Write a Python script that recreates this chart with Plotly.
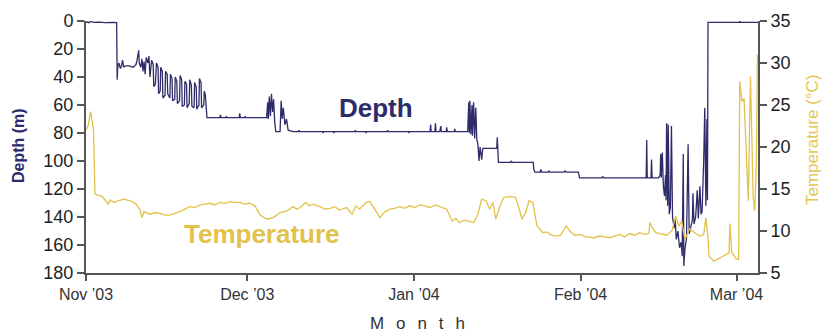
import pandas as pd
import plotly.graph_objects as go

START = "2003-11-01"

# Depth series: days since 1 Nov 2003, depth in metres
depth_day = [0.0, 0.6, 0.8, 1.5, 2.5, 3.5, 5.0, 5.7,
             5.8, 5.9, 6.1, 6.4, 6.6, 6.8, 7.0, 7.3, 8.0, 8.8, 9.3, 9.5, 9.8, 9.9, 10.2, 10.4, 10.6, 10.8, 11.0, 11.2, 11.5, 11.7, 11.9,
             12.2, 12.5, 12.6, 12.9, 13.1, 13.4, 13.5, 13.8, 13.9, 14.2, 14.3, 14.7, 14.8, 15.1, 15.2, 15.6,
             15.7, 16.0, 16.1, 16.5, 16.6, 16.9, 17.0, 17.4, 17.5, 17.8, 17.9, 18.3, 18.4, 18.7, 18.8, 19.2,
             19.3, 19.6, 19.7, 20.1, 20.2, 20.5, 20.6, 21.0, 21.1, 21.4, 21.5, 21.9, 22.0, 22.2, 22.3, 22.5,
             24.9, 25.0, 25.1, 26.0, 26.1, 26.2, 28.5, 28.6, 28.7, 29.5, 29.6, 29.7, 33.6,
             33.8, 33.9, 34.1, 34.3, 34.5, 34.7, 34.9, 35.1, 35.3, 36.1, 36.3, 36.5, 36.7, 37.0, 37.3, 37.6, 38.5,
             39.5, 39.6, 39.7, 44.0, 44.1, 44.2, 46.0, 46.1, 46.2, 50.0, 50.1, 50.2, 52.0, 52.1, 52.2, 56.0, 56.1, 56.2,
             60.0, 60.1, 60.2, 64.0, 64.1, 64.2, 64.9, 65.0, 65.1, 65.8, 66.0, 66.1, 67.0, 67.1, 67.2, 68.5, 68.6, 68.7, 71.0,
             71.2, 71.3, 71.4, 71.6, 71.8, 71.9, 72.1, 72.3, 72.5, 72.7, 72.9, 73.1, 73.3, 73.6, 73.8, 76.4, 76.5, 76.6, 76.7,
             79.0, 79.1, 79.3, 83.2, 83.3, 83.5, 84.5, 84.6, 84.8, 86.0, 86.1, 86.3, 89.0, 89.1, 89.4, 91.6, 91.8, 96.0, 96.1, 96.3, 103.8,
             104.2, 104.3, 104.4, 105.1, 105.2, 105.3, 106.5, 106.8, 106.9, 107.0, 107.2, 107.4, 107.6, 107.8, 107.9, 108.0, 108.2, 108.3,
             108.5, 108.7, 108.9, 109.1, 109.4, 109.6, 109.8, 110.1, 110.4, 110.7, 110.9, 111.1, 111.2, 111.4, 111.7, 112.0, 112.2, 112.5,
             112.8, 112.9, 113.1, 113.4, 113.7, 113.9, 114.2, 114.4, 114.6, 114.9, 115.1, 115.3, 115.5, 115.6, 115.7, 121.5, 121.6, 121.7, 125.0]
depth_m = [0.5, 1.2, 0.3, 1.0, 0.8, 1.2, 1.0, 1.2,
           42, 33, 30, 34, 32, 28, 33, 32, 32, 33, 31, 28, 21, 30, 33, 27, 36, 29, 38, 26, 30, 25, 40,
           28, 31, 47, 45, 30, 33, 52, 50, 33, 36, 55, 53, 36, 38, 52, 55,
           38, 41, 57, 56, 40, 43, 59, 57, 39, 42, 61, 60, 43, 45, 62, 59,
           42, 46, 61, 62, 44, 47, 63, 60, 41, 44, 62, 60, 50, 53, 58, 69,
           69, 67, 69, 69, 68, 69, 69, 66, 69, 69, 68, 69, 69,
           58, 70, 54, 68, 52, 65, 56, 72, 79, 79, 57, 70, 62, 74, 70, 78, 79,
           79, 78, 79, 79, 80, 79, 79, 80, 79, 79, 78, 79, 79, 80, 79, 79, 78, 79,
           79, 80, 79, 79, 74, 79, 79, 73, 79, 79, 75, 79, 79, 76, 79, 79, 77, 79, 79,
           58, 80, 57, 81, 60, 82, 58, 84, 62, 85, 88, 100, 90, 99, 91, 91, 83, 91, 101,
           101, 100, 101, 101, 106, 108, 108, 106, 108, 108, 107, 108, 108, 107, 108, 108, 112, 112, 111, 112, 112,
           112, 85, 112, 112, 99, 112, 112, 110, 95, 112, 94, 118, 125, 110, 128, 73, 132, 74,
           138, 133, 75, 140, 148, 142, 156, 150, 162, 158, 168, 95, 175, 163, 155, 88, 152, 147,
           142, 123, 145, 140, 121, 141, 118, 138, 136, 100, 62, 132, 70, 128, 1, 1, 0, 1, 1]

# Temperature series: days since 1 Nov 2003, degrees C
temp_day = [0.0, 0.37, 0.87, 1.1, 1.4, 1.67, 2.2, 3.0, 3.7, 4.1, 4.5, 5.2, 5.95, 7.1, 8.2, 9.3, 10.0, 10.4, 10.8,
            11.9, 12.8, 13.8, 14.7, 15.6, 16.5, 17.5, 18.4, 19.3, 20.2, 21.2, 22.1, 23.1, 24.0, 24.9, 25.8, 26.8,
            27.7, 28.6, 29.5, 30.5, 31.4, 32.4, 33.7, 34.8, 36.1, 37.4,
            38.5, 39.2, 39.8, 40.9, 41.5, 42.2, 43.5, 44.4, 45.4, 46.3, 47.2, 48.5, 49.5, 50.2, 50.9, 52.1, 52.8, 53.9, 54.7, 55.6, 56.5,
            57.4, 58.4, 59.3, 60.2, 61.2, 62.1, 63.0, 64.0, 65.0, 65.8, 67.1, 68.1, 68.8, 69.5, 70.3, 71.0, 72.1, 72.9, 73.6, 74.4, 75.1, 75.7, 76.2, 77.0,
            77.7, 78.8, 79.9, 80.5, 81.1, 81.8, 82.4, 83.1, 83.9, 85.0, 85.7, 86.3, 87.4, 88.3, 89.3, 90.0, 90.9, 91.9,
            93.0, 94.6, 95.5, 96.5, 97.4, 98.4, 99.3, 100.2, 101.1, 102.1, 103.0, 103.9, 104.7, 104.9, 105.3, 106.0, 107.1, 108.0, 109.0, 109.7,
            110.3, 110.8, 111.4, 112.3, 113.2, 114.2, 114.9, 115.3, 115.7, 115.9, 116.8, 117.9, 119.0, 119.6,
            119.8, 120.1, 120.9, 121.4, 121.6, 122.0, 122.4, 122.5, 122.9, 123.2, 123.6, 123.9, 124.1, 124.4,
            124.7, 124.9]
temp_c = [22.0, 22.5, 24.2, 23.0, 22.0, 14.4, 14.3, 14.1, 13.6, 13.2, 13.7, 13.4, 13.6, 13.8, 13.6, 13.2, 12.6, 11.6, 12.3,
          12.0, 12.2, 12.1, 11.9, 11.9, 12.1, 12.3, 12.6, 12.9, 12.8, 13.1, 13.2, 13.3, 13.1, 13.4, 13.3, 13.5,
          13.4, 13.4, 13.2, 13.3, 13.0, 11.9, 11.4, 11.6, 12.2, 12.4,
          12.9, 12.6, 12.8, 13.4, 13.0, 13.2, 12.9, 12.6, 12.7, 12.9, 12.5, 12.8, 12.0, 13.0, 12.6, 13.4, 13.5, 12.4, 11.6, 12.3, 12.6,
          12.7, 12.9, 12.7, 13.0, 12.8, 13.1, 13.0, 12.8, 13.1, 12.9, 12.6, 11.2, 11.5, 11.0, 11.3, 11.2, 11.0, 12.0, 13.8, 13.6, 12.6, 13.4, 11.4, 13.0,
          14.0, 14.1, 14.0, 12.8, 11.4, 12.2, 13.6, 13.4, 10.6, 9.8, 9.9, 9.6, 9.4, 9.5, 10.6, 10.0, 9.5, 9.6,
          9.3, 9.2, 9.4, 9.3, 9.2, 9.4, 9.6, 9.3, 9.7, 9.5, 9.8, 9.6, 9.7, 11.0, 10.4, 9.8, 9.6, 9.5, 10.0, 11.8,
          10.6, 11.2, 9.0, 10.3, 9.8, 9.4, 9.6, 11.6, 9.2, 7.0, 6.4, 6.8, 7.1, 7.4,
          10.9, 7.5, 6.7, 6.6, 27.8, 25.4, 25.8, 24.2, 16.9, 13.6, 28.4, 20.0, 14.0, 12.4,
          18.2, 31.0]

tick_vals = ["2003-11-01", "2003-12-01", "2004-01-01", "2004-02-01", "2004-03-01"]
tick_text = ["Nov \u201903", "Dec \u201903", "Jan \u201904", "Feb \u201904", "Mar \u201904"]

base = pd.Timestamp(START)
depth_x = [base + pd.Timedelta(days=d) for d in depth_day]
temp_x = [base + pd.Timedelta(days=d) for d in temp_day]

NAVY = "#2e2b6a"
GOLD = "#e2c24a"
FONT = "Liberation Sans, Arial, sans-serif"
AX = "#555555"

fig = go.Figure()
fig.add_trace(go.Scatter(x=temp_x, y=temp_c, mode="lines", yaxis="y2",
                         line=dict(color=GOLD, width=1.3), showlegend=False))
fig.add_trace(go.Scatter(x=depth_x, y=depth_m, mode="lines", yaxis="y",
                         line=dict(color=NAVY, width=1.3), showlegend=False))

fig.update_layout(
    width=823, height=335,
    margin=dict(l=86, r=65, t=21, b=62),
    paper_bgcolor="white", plot_bgcolor="white",
    font=dict(family=FONT, color="#222222"),
    xaxis=dict(type="date", range=["2003-11-01", "2004-03-05"],
               tickvals=tick_vals, ticktext=tick_text,
               showgrid=False, zeroline=False,
               showline=True, linecolor=AX, linewidth=2,
               ticks="outside", ticklen=6, tickwidth=2, tickcolor=AX,
               tickfont=dict(size=16, color="#333333")),
    yaxis=dict(range=[180, 0], tickvals=list(range(0, 181, 20)),
               showgrid=False, zeroline=False,
               showline=True, linecolor=AX, linewidth=2,
               ticks="outside", ticklen=7, tickwidth=2, tickcolor=AX,
               tickfont=dict(size=18, color="#222222")),
    yaxis2=dict(range=[5, 35], tickvals=list(range(5, 36, 5)),
                overlaying="y", side="right", anchor="x",
                showgrid=False, zeroline=False,
                showline=True, linecolor=AX, linewidth=2,
                ticks="outside", ticklen=7, tickwidth=2, tickcolor=AX,
                tickfont=dict(size=18, color="#222222")),
)

fig.add_annotation(text="<b>Depth (m)</b>", textangle=-90, xref="paper", yref="paper",
                   x=-86/672 + 18/672, y=(273-146)/252, xanchor="center", yanchor="middle",
                   showarrow=False, font=dict(size=16, color=NAVY))
fig.add_annotation(text="Temperature (\u00b0C)", textangle=-90, xref="paper", yref="paper",
                   x=(812-86)/672, y=(273-140)/252, xanchor="center", yanchor="middle",
                   showarrow=False, font=dict(size=17, color="#e5c654"))
fig.add_annotation(text="M\u2002\u2009o\u2002\u2009n\u2002\u2009t\u2002\u2009h", xref="paper", yref="paper",
                   x=(417-86)/672, y=(273-323)/252, xanchor="center", yanchor="middle",
                   showarrow=False, font=dict(size=17, color="#333333"))
fig.add_annotation(text="<b>Depth</b>", xref="paper", yref="paper",
                   x=(376-86)/672, y=(273-108)/252, xanchor="center", yanchor="middle",
                   showarrow=False, font=dict(size=26, color=NAVY))
fig.add_annotation(text="<b>Temperature</b>", xref="paper", yref="paper",
                   x=(262-86)/672, y=(273-234)/252, xanchor="center", yanchor="middle",
                   showarrow=False, font=dict(size=26, color=GOLD))

fig.write_html("out.html")
